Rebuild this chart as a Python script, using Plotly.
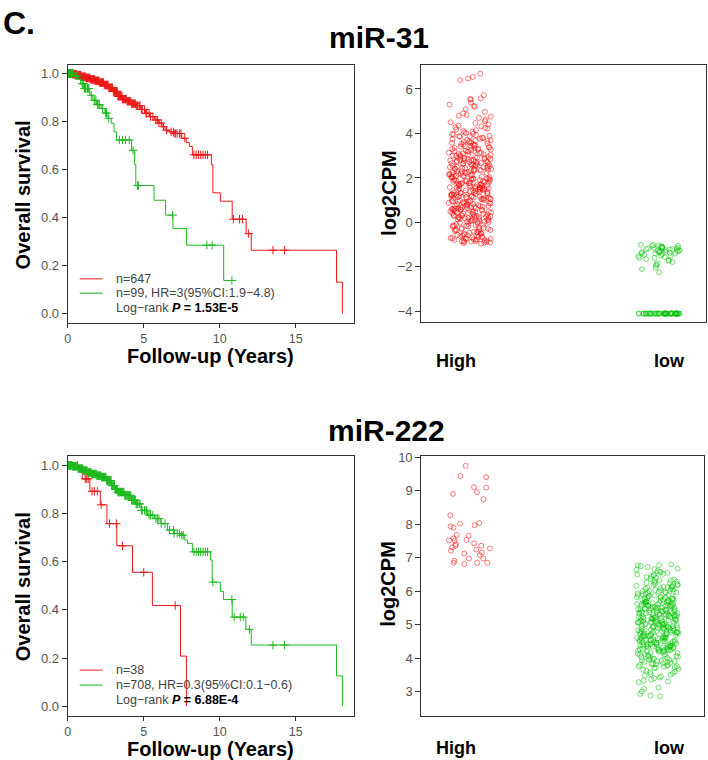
import math
import plotly.graph_objects as go

W, H = 708, 760

# ---------------- Kaplan-Meier data ----------------
# miR-31, High group (n=647): step times and survival after each step
km31_high_t = [0.0, 0.3, 0.6, 0.9, 1.2, 1.5, 1.8, 2.1, 2.4, 2.7, 3.0, 3.3, 3.6, 3.9, 4.2, 4.5, 4.8,
               5.1, 5.4, 5.7, 6.0, 6.2, 6.4, 6.7, 7.0, 7.5, 7.8, 8.0, 8.2, 9.45, 9.55, 10.04, 10.82,
               11.74, 12.07, 17.68, 18.07]
km31_high_s = [1.0, 0.997, 0.993, 0.986, 0.981, 0.975, 0.969, 0.962, 0.952, 0.940, 0.925, 0.905, 0.893,
               0.884, 0.874, 0.866, 0.850, 0.834, 0.820, 0.806, 0.793, 0.778, 0.764, 0.757, 0.750, 0.730,
               0.712, 0.696, 0.661, 0.62, 0.503, 0.468, 0.393, 0.333, 0.264, 0.131, 0.0]
km31_high_cens = [0.03, 0.06, 0.09, 0.12, 0.15, 0.18, 0.21, 0.25, 0.28, 0.31, 0.35, 0.38, 0.42, 0.45,
                  0.49, 0.52, 0.56, 0.6, 0.64, 0.68, 0.72, 0.75, 0.79, 0.83, 0.87, 0.9, 0.94, 0.98,
                  1.02, 1.05, 1.09, 1.12, 1.16, 1.2, 1.24, 1.28, 1.32, 1.35, 1.39, 1.42, 1.46, 1.5,
                  1.54, 1.58, 1.62, 1.65, 1.69, 1.72, 1.76, 1.8, 1.84, 1.88, 1.92, 1.95, 1.99, 2.02,
                  2.06, 2.1, 2.14, 2.18, 2.22, 2.25, 2.29, 2.32, 2.36, 2.4, 2.44, 2.48, 2.52, 2.55,
                  2.59, 2.62, 2.66, 2.7, 2.74, 2.78, 2.82, 2.85, 2.89, 2.92, 2.96, 3.0, 3.04, 3.08,
                  3.12, 3.15, 3.19, 3.22, 3.26, 3.3, 3.34, 3.38, 3.42, 3.45, 3.49, 3.52, 3.56, 3.6,
                  3.65, 3.7, 3.75, 3.8, 3.85, 3.9, 3.95, 4.0, 4.05, 4.1, 4.15, 4.2, 4.25, 4.3, 4.35,
                  4.4, 4.45, 4.5, 4.55, 4.6, 4.7, 4.75, 4.85, 4.9, 5.05, 5.15, 5.2, 5.35, 5.45, 5.6,
                  5.8, 5.9, 6.0, 6.15, 6.3, 6.5, 6.8, 6.95, 7.0, 7.1, 7.2, 7.35, 7.45, 7.7, 8.3, 8.45,
                  8.6, 8.75, 8.9, 9.05, 9.2, 10.9, 11.3, 11.5, 11.9, 13.5, 14.27]
# miR-31, low group (n=99)
km31_low_t = [0.0, 0.4, 0.7, 0.85, 1.1, 1.45, 1.65, 1.9, 2.2, 2.45, 2.64, 2.86, 3.05, 3.2, 4.2, 4.4,
              4.48, 5.68, 6.44, 6.92, 7.81, 10.26]
km31_low_s = [1.0, 0.99, 0.975, 0.957, 0.937, 0.909, 0.888, 0.87, 0.854, 0.835, 0.813, 0.792, 0.757,
              0.723, 0.68, 0.62, 0.533, 0.472, 0.41, 0.354, 0.285, 0.138]
km31_low_cens = [0.03, 0.06, 0.1, 0.13, 0.16, 0.2, 0.25, 0.3, 0.35, 0.5, 0.6, 0.95, 1.0, 1.05, 1.1,
                 1.15, 1.2, 1.3, 1.35, 1.4, 1.55, 1.75, 1.85, 1.95, 2.0, 2.1, 2.3, 2.5, 2.55, 2.7,
                 3.4, 3.6, 3.8, 4.05, 4.3, 4.6, 4.65, 6.9, 9.15, 9.5, 10.8]
# miR-222, High group (n=38)
km222_high_t = [0.0, 0.75, 0.95, 1.46, 2.14, 2.58, 3.23, 4.26, 5.57, 7.42, 7.81]
km222_high_s = [1.0, 0.973, 0.944, 0.892, 0.836, 0.758, 0.666, 0.556, 0.418, 0.208, 0.0]
km222_high_cens = [0.65, 1.15, 1.25, 1.35, 1.6, 1.75, 1.95, 2.2, 2.75, 3.2, 3.6, 5.0, 7.07]
# miR-222, low group (n=708)
km222_low_t = [0.0, 0.3, 0.67, 1.0, 1.3, 1.55, 1.9, 2.2, 2.53, 2.86, 3.1, 3.3, 3.73, 4.17, 4.5, 4.83,
               5.26, 5.7, 6.13, 6.57, 7.0, 7.44, 7.7, 7.88, 8.2, 9.4, 9.5, 10.04, 10.25, 10.82, 11.72,
               12.07, 17.68, 18.07]
km222_low_s = [1.0, 0.996, 0.986, 0.978, 0.970, 0.964, 0.957, 0.951, 0.937, 0.916, 0.900, 0.889, 0.875,
               0.855, 0.840, 0.813, 0.793, 0.779, 0.758, 0.731, 0.717, 0.710, 0.69, 0.676, 0.641, 0.607,
               0.515, 0.477, 0.443, 0.37, 0.319, 0.254, 0.126, 0.0]
km222_low_cens = [0.03, 0.06, 0.09, 0.12, 0.15, 0.18, 0.21, 0.25, 0.28, 0.31, 0.35, 0.38, 0.42, 0.45,
                  0.49, 0.52, 0.56, 0.6, 0.64, 0.68, 0.72, 0.75, 0.79, 0.83, 0.87, 0.9, 0.94, 0.98,
                  1.02, 1.05, 1.09, 1.12, 1.16, 1.2, 1.24, 1.28, 1.32, 1.35, 1.39, 1.42, 1.46, 1.5,
                  1.54, 1.58, 1.62, 1.65, 1.69, 1.72, 1.76, 1.8, 1.84, 1.88, 1.92, 1.95, 1.99, 2.02,
                  2.06, 2.1, 2.14, 2.18, 2.22, 2.25, 2.29, 2.32, 2.36, 2.4, 2.44, 2.48, 2.52, 2.55,
                  2.59, 2.62, 2.66, 2.7, 2.74, 2.78, 2.82, 2.85, 2.89, 2.92, 2.96, 3.0, 3.04, 3.08,
                  3.12, 3.15, 3.19, 3.22, 3.26, 3.3, 3.34, 3.38, 3.42, 3.45, 3.49, 3.52, 3.56, 3.6,
                  3.65, 3.7, 3.75, 3.8, 3.85, 3.9, 3.95, 4.0, 4.05, 4.1, 4.15, 4.2, 4.25, 4.3, 4.35,
                  4.4, 4.45, 4.5, 4.55, 4.6, 4.7, 4.75, 4.85, 4.9, 5.05, 5.15, 5.2, 5.35, 5.45, 5.6,
                  5.8, 5.9, 6.0, 6.15, 6.4, 6.7, 6.95, 7.0, 7.2, 7.35, 7.5, 7.6, 8.3, 8.45, 8.6, 8.75,
                  8.9, 9.05, 9.2, 9.55, 10.8, 10.95, 11.35, 11.55, 11.95, 13.5, 14.27]

km31_labels = ["n=647", "n=99, HR=3(95%CI:1.9\u22124.8)", "Log\u2212rank <b><i>P</i> = 1.53E-5</b>"]
km222_labels = ["n=38", "n=708, HR=0.3(95%CI:0.1\u22120.6)", "Log\u2212rank <b><i>P</i> = 6.88E-4</b>"]

# ---------------- expression (log2CPM) data ----------------
categories = ["High", "low"]
mir31_high = [
    6.69, 6.54, 6.47, 6.40, 5.72, 5.58, 5.55, 5.52, 5.39, 5.30, 5.24, 5.20, 5.09, 4.97, 4.90, 4.83, 4.80,
    4.75, 4.70, 4.62, 4.55, 4.50, 4.47, 4.40, 4.35, 4.32, 4.28, 4.22, 4.18, 4.12, 4.08, 4.05, 4.02, 3.98,
    3.95, 3.92, 3.90, 3.88, 3.85, 3.82, 4.25, 4.15, 3.97, 3.87,
    3.79, 3.76, 3.74, 3.71, 3.69, 3.66, 3.64, 3.62, 3.60, 3.58, 3.55, 3.53, 3.51, 3.48, 3.46, 3.44, 3.41,
    3.39, 3.37, 3.35, 3.32, 3.30, 3.28, 3.26, 3.23, 3.21, 3.19, 3.17, 3.14, 3.12, 3.10, 3.08, 3.06, 3.04,
    3.02, 3.00, 3.57, 3.43, 3.27, 3.13, 3.68, 3.34, 3.20, 3.05, 3.50,
    2.99, 2.97, 2.95, 2.93, 2.91, 2.89, 2.87, 2.86, 2.84, 2.82, 2.80, 2.78, 2.76, 2.75, 2.73, 2.71, 2.69,
    2.67, 2.66, 2.64, 2.62, 2.60, 2.58, 2.57, 2.55, 2.53, 2.51, 2.49, 2.48, 2.46, 2.44, 2.42, 2.40, 2.39,
    2.37, 2.35, 2.33, 2.31, 2.30, 2.28, 2.26, 2.24, 2.22, 2.21, 2.19, 2.17, 2.15, 2.13, 2.12, 2.10, 2.08,
    2.06, 2.04, 2.03, 2.01, 2.90, 2.81, 2.72, 2.63, 2.54, 2.45, 2.36, 2.27, 2.18, 2.09, 2.85, 2.65, 2.50,
    2.34, 2.16, 2.61, 2.88, 2.41, 2.05, 2.77,
    1.99, 1.98, 1.96, 1.94, 1.93, 1.91, 1.89, 1.88, 1.86, 1.84, 1.83, 1.81, 1.79, 1.78, 1.76, 1.74, 1.73,
    1.71, 1.69, 1.68, 1.66, 1.64, 1.63, 1.61, 1.59, 1.58, 1.56, 1.54, 1.53, 1.51, 1.49, 1.48, 1.46, 1.44,
    1.43, 1.41, 1.39, 1.38, 1.36, 1.34, 1.33, 1.31, 1.29, 1.28, 1.26, 1.24, 1.23, 1.21, 1.19, 1.18, 1.16,
    1.14, 1.13, 1.11, 1.09, 1.08, 1.06, 1.04, 1.03, 1.01, 1.95, 1.85, 1.75, 1.65, 1.55, 1.45, 1.35, 1.25,
    1.15, 1.05, 1.92, 1.72, 1.52, 1.32, 1.12, 1.87, 1.67, 1.47, 1.27, 1.07, 1.97, 1.57, 1.17, 1.62, 1.22,
    0.99, 0.97, 0.95, 0.94, 0.92, 0.90, 0.88, 0.87, 0.85, 0.83, 0.81, 0.80, 0.78, 0.76, 0.74, 0.73, 0.71,
    0.69, 0.67, 0.66, 0.64, 0.62, 0.60, 0.59, 0.57, 0.55, 0.53, 0.52, 0.50, 0.48, 0.46, 0.45, 0.43, 0.41,
    0.39, 0.38, 0.36, 0.34, 0.32, 0.31, 0.29, 0.27, 0.25, 0.24, 0.22, 0.20, 0.18, 0.17, 0.15, 0.13, 0.11,
    0.10, 0.08, 0.06, 0.04, 0.03, 0.01, 0.96, 0.86, 0.75, 0.65, 0.54, 0.44, 0.33, 0.23, 0.12, 0.02, 0.91,
    0.70, 0.49, 0.28, 0.07, 0.82, 0.61, 0.40, 0.19, 0.63, 0.21, 0.58, 0.26,
    -0.02, -0.04, -0.06, -0.08, -0.10, -0.12, -0.14, -0.16, -0.18, -0.20, -0.22, -0.24, -0.26, -0.28,
    -0.30, -0.32, -0.34, -0.36, -0.38, -0.40, -0.42, -0.44, -0.46, -0.48, -0.50, -0.52, -0.54, -0.56,
    -0.58, -0.60, -0.62, -0.64, -0.66, -0.68, -0.70, -0.72, -0.74, -0.76, -0.78, -0.80, -0.82, -0.84,
    -0.86, -0.88, -0.90, -0.93, -0.95, -0.31, -0.55, -0.71, -0.77, -0.83, -0.87, -0.65, -0.45, -0.15,
    -0.91, -0.79, -0.85, -0.73]
mir31_low = [
    -1.00, -1.02, -1.05, -1.05, -1.08, -1.10, -1.10, -1.12, -1.15, -1.15, -1.18, -1.20, -1.20, -1.22,
    -1.25, -1.25, -1.28, -1.30, -1.30, -1.32, -1.35, -1.35, -1.38, -1.40, -1.40, -1.42, -1.45, -1.48,
    -1.50, -1.52, -1.55, -1.58, -1.60, -1.65, -1.70, -1.72, -1.78, -1.85, -1.90, -1.95, -2.05, -2.10,
    -2.25, -1.03, -1.13, -1.17, -1.27, -1.33, -1.37,
    -4.10, -4.10, -4.10, -4.10, -4.10, -4.10, -4.10, -4.10, -4.10, -4.10, -4.10, -4.10, -4.10, -4.10,
    -4.10, -4.10, -4.10, -4.10, -4.10, -4.10, -4.10, -4.10, -4.10, -4.10, -4.10, -4.10, -4.10, -4.10,
    -4.10, -4.10, -4.10, -4.10, -4.10, -4.10, -4.10, -4.10, -4.10, -4.10, -4.10, -4.10, -4.10, -4.10,
    -4.10, -4.10, -4.10, -4.10, -4.10, -4.10, -4.10, -4.10]
mir222_high = [9.75, 9.44, 9.41, 9.11, 9.10, 8.96, 8.91, 8.75, 8.27, 8.02, 8.04, 7.97, 7.90, 7.94, 7.68,
               7.66, 7.53, 7.51, 7.52, 7.58, 7.43, 7.36, 7.40, 7.35, 7.31, 7.28, 7.21, 7.16, 7.13, 7.08,
               6.98, 6.98, 6.91, 6.81, 6.85, 6.85, 6.85, 7.25]
mir222_low = [
    6.80, 6.78, 6.77, 6.75, 6.72, 6.68, 6.66, 6.64, 6.60, 6.57, 6.55, 6.52, 6.50, 6.48, 6.45, 6.42, 6.40,
    6.38, 6.35, 6.32, 6.30, 6.28, 6.26, 6.24, 6.22, 6.21, 6.47, 6.33, 6.58, 6.25,
    6.19, 6.18, 6.16, 6.15, 6.13, 6.12, 6.10, 6.09, 6.07, 6.06, 6.04, 6.03, 6.01, 6.00, 5.98, 5.97, 5.95,
    5.94, 5.92, 5.91, 5.89, 5.88, 5.86, 5.85, 5.83, 5.82, 5.80, 6.11, 5.96, 5.87, 6.05, 5.93, 5.81, 6.14,
    5.99,
    5.79, 5.78, 5.77, 5.76, 5.75, 5.74, 5.72, 5.71, 5.70, 5.69, 5.68, 5.67, 5.65, 5.64, 5.63, 5.62, 5.61,
    5.60, 5.58, 5.57, 5.56, 5.55, 5.54, 5.53, 5.51, 5.50, 5.49, 5.48, 5.47, 5.46, 5.44, 5.43, 5.42, 5.41,
    5.40, 5.39, 5.37, 5.36, 5.35, 5.34, 5.33, 5.32, 5.30, 5.29, 5.28, 5.27, 5.26, 5.25, 5.23, 5.22, 5.21,
    5.20, 5.19, 5.18, 5.16, 5.15, 5.14, 5.13, 5.12, 5.11, 5.09, 5.08, 5.07, 5.06, 5.05, 5.04, 5.02, 5.01,
    5.00, 5.73, 5.66, 5.59, 5.52, 5.45, 5.38, 5.31, 5.24, 5.17, 5.10, 5.03, 5.785, 5.715, 5.645, 5.575,
    5.505, 5.435, 5.365, 5.295, 5.225, 5.155, 5.085, 5.015, 5.62, 5.48, 5.34, 5.20, 5.06, 5.55, 5.41,
    5.27, 5.13, 5.69, 5.58, 5.44, 5.30, 5.16, 5.02, 5.36, 5.22, 5.08,
    4.99, 4.98, 4.97, 4.96, 4.95, 4.94, 4.92, 4.91, 4.90, 4.89, 4.88, 4.87, 4.85, 4.84, 4.83, 4.82, 4.81,
    4.80, 4.78, 4.77, 4.76, 4.75, 4.74, 4.73, 4.71, 4.70, 4.69, 4.68, 4.67, 4.66, 4.64, 4.63, 4.62, 4.61,
    4.60, 4.59, 4.57, 4.56, 4.55, 4.54, 4.53, 4.52, 4.50, 4.49, 4.48, 4.47, 4.46, 4.45, 4.43, 4.42, 4.41,
    4.40, 4.39, 4.38, 4.36, 4.35, 4.34, 4.33, 4.32, 4.31, 4.29, 4.28, 4.27, 4.26, 4.25, 4.24, 4.22, 4.21,
    4.20, 4.93, 4.86, 4.79, 4.72, 4.65, 4.58, 4.51, 4.44, 4.37, 4.30, 4.23, 4.965, 4.895, 4.825, 4.755,
    4.685, 4.615, 4.545, 4.475, 4.405, 4.335, 4.265, 4.95, 4.81, 4.67, 4.53, 4.39, 4.25, 4.88, 4.74, 4.60,
    4.46, 4.32, 4.92, 4.78, 4.64, 4.50, 4.36, 4.22,
    4.19, 4.18, 4.16, 4.15, 4.13, 4.12, 4.10, 4.09, 4.07, 4.06, 4.04, 4.03, 4.01, 4.00, 3.98, 3.97, 3.95,
    3.94, 3.92, 3.91, 3.89, 3.88, 3.86, 3.85, 3.83, 3.82, 3.80, 3.79, 3.77, 3.76, 3.74, 3.73, 3.71, 3.70,
    4.11, 3.96, 3.81, 4.05, 3.90, 3.75,
    3.68, 3.65, 3.62, 3.60, 3.58, 3.55, 3.52, 3.50, 3.48, 3.45, 3.42, 3.40, 3.36, 3.32, 3.30, 3.28, 3.12,
    3.08, 3.00, 2.93, 2.88, 2.86]

# ---------------- styling ----------------
RED = "rgb(235,25,25)"
GREEN = "rgb(30,185,30)"
RED_PT = "rgba(255,0,0,0.65)"
GREEN_PT = "rgba(0,195,0,0.65)"
FONT = "Arial, Liberation Sans, Helvetica, sans-serif"


def px(x):
    return x / W


def py(y):
    return 1 - y / H


def step_at(ts, ss, t):
    v = ss[0]
    for ti, si in zip(ts, ss):
        if ti <= t:
            v = si
        else:
            break
    return v


def jitter(n, seed):
    return [(math.sin((i + 1) * 12.9898 + seed * 78.233) * 43758.5453) % 1.0 for i in range(n)]


fig = go.Figure()


def add_km(ts, ss, cens, color, xa, ya):
    xs = list(ts)
    ys = list(ss)
    end = max(cens) if cens else ts[-1]
    if end > xs[-1]:
        xs.append(end)
        ys.append(ys[-1])
    fig.add_trace(go.Scatter(x=xs, y=ys, mode="lines", line=dict(color=color, width=1, shape="hv"),
                             xaxis=xa, yaxis=ya, showlegend=False, hoverinfo="skip"))
    fig.add_trace(go.Scatter(x=cens, y=[step_at(ts, ss, c) for c in cens], mode="markers",
                             marker=dict(symbol="cross-thin", size=6, line=dict(color=color, width=1)),
                             xaxis=xa, yaxis=ya, showlegend=False, hoverinfo="skip"))


def add_jitter(vals, center, color, seed, xa, ya):
    j = jitter(len(vals), seed)
    fig.add_trace(go.Scatter(x=[center + (k - 0.5) * 0.2 for k in j], y=vals, mode="markers",
                             marker=dict(symbol="circle-open", size=5, color=color, line=dict(width=0.8)),
                             xaxis=xa, yaxis=ya, showlegend=False, hoverinfo="skip"))


# top row
add_km(km31_high_t, km31_high_s, km31_high_cens, RED, "x", "y")
add_km(km31_low_t, km31_low_s, km31_low_cens, GREEN, "x", "y")
add_jitter(mir31_high, 1.065, RED_PT, 1, "x2", "y2")
add_jitter(mir31_low, 1.953, GREEN_PT, 2, "x2", "y2")
# bottom row
add_km(km222_high_t, km222_high_s, km222_high_cens, RED, "x3", "y3")
add_km(km222_low_t, km222_low_s, km222_low_cens, GREEN, "x3", "y3")
add_jitter(mir222_high, 1.062, RED_PT, 3, "x4", "y4")
add_jitter(mir222_low, 1.953, GREEN_PT, 4, "x4", "y4")

axis_common = dict(showline=True, mirror=True, linecolor="#333", linewidth=1, showgrid=False,
                   zeroline=False, ticks="outside", ticklen=5, tickcolor="#333",
                   tickfont=dict(family=FONT, size=13, color="#555"))
xkm = dict(axis_common, ticklen=4, tickfont=dict(family=FONT, size=12.5, color="#555"))

fig.update_layout(
    width=W, height=H, margin=dict(l=0, r=0, t=0, b=0),
    paper_bgcolor="white", plot_bgcolor="white", showlegend=False,
    xaxis=dict(domain=[px(65), px(352)], range=[0, 18.8], tickvals=[0, 5, 10, 15], anchor="y", **xkm),
    yaxis=dict(domain=[py(320), py(59)], range=[-0.041, 1.037], tickvals=[0, 0.2, 0.4, 0.6, 0.8, 1.0],
               tickformat=".1f", anchor="x", **axis_common),
    xaxis2=dict(domain=[px(420), px(706)], range=[0.836, 2.173], anchor="y2", showticklabels=False,
                **{**axis_common, "ticks": ""}),
    yaxis2=dict(domain=[py(319), py(59)], range=[-4.5, 7.1], tickvals=[-4, -2, 0, 2, 4, 6], anchor="x2",
                **axis_common),
    xaxis3=dict(domain=[px(65), px(352)], range=[0, 18.8], tickvals=[0, 5, 10, 15], anchor="y3", **xkm),
    yaxis3=dict(domain=[py(716), py(454)], range=[-0.042, 1.037], tickvals=[0, 0.2, 0.4, 0.6, 0.8, 1.0],
                tickformat=".1f", anchor="x3", **axis_common),
    xaxis4=dict(domain=[px(420), px(704)], range=[0.836, 2.173], anchor="y4", showticklabels=False,
                **{**axis_common, "ticks": ""}),
    yaxis4=dict(domain=[py(716), py(454)], range=[2.258, 10.03], tickvals=[3, 4, 5, 6, 7, 8, 9, 10],
                anchor="x4", **axis_common),
)

ann = []


def text(x, y, s, size, color="black", angle=0, xanchor="center"):
    ann.append(dict(x=px(x), y=py(y), xref="paper", yref="paper", text=s, showarrow=False,
                    textangle=angle, xanchor=xanchor, yanchor="middle",
                    font=dict(family=FONT, size=size, color=color)))


text(-2, 17, "<b>C.</b>", 32, xanchor="left")
text(378, 32, "<b>miR-31</b>", 30)
text(385, 428, "<b>miR-222</b>", 30)
for yc in (190, 585):
    text(20, yc, "<b>Overall survival</b>", 20, angle=-90)
for yc in (188, 582):
    text(387, yc, "<b>log2CPM</b>", 20, angle=-90)
for yc in (353, 749):
    text(208, yc, "<b>Follow-up (Years)</b>", 20)
for yc in (358, 748):
    text(455, yc, "<b>" + categories[0] + "</b>", 18)
    text(669, yc, "<b>" + categories[1] + "</b>", 18)

shapes = []
for labels, ys in ((km31_labels, (275, 289.5, 304)), (km222_labels, (669.5, 684.5, 700))):
    shapes.append(dict(type="line", xref="paper", yref="paper", x0=px(77), x1=px(100), y0=py(ys[0]),
                       y1=py(ys[0]), line=dict(color="rgba(235,80,80,0.85)", width=1.5)))
    shapes.append(dict(type="line", xref="paper", yref="paper", x0=px(77), x1=px(100), y0=py(ys[1]),
                       y1=py(ys[1]), line=dict(color="rgba(70,190,70,0.85)", width=1.5)))
    for lab, yy in zip(labels, ys):
        lab = lab.replace("<b>", "<b><span style='color:black'>").replace("</b>", "</span></b>")
        text(111, yy, lab, 12.5, color="#444", xanchor="left")

fig.update_layout(annotations=ann, shapes=shapes)
fig.write_html("out.html", config={"displayModeBar": False},
               post_script="document.body.style.margin='0';document.body.style.overflow='hidden';")
